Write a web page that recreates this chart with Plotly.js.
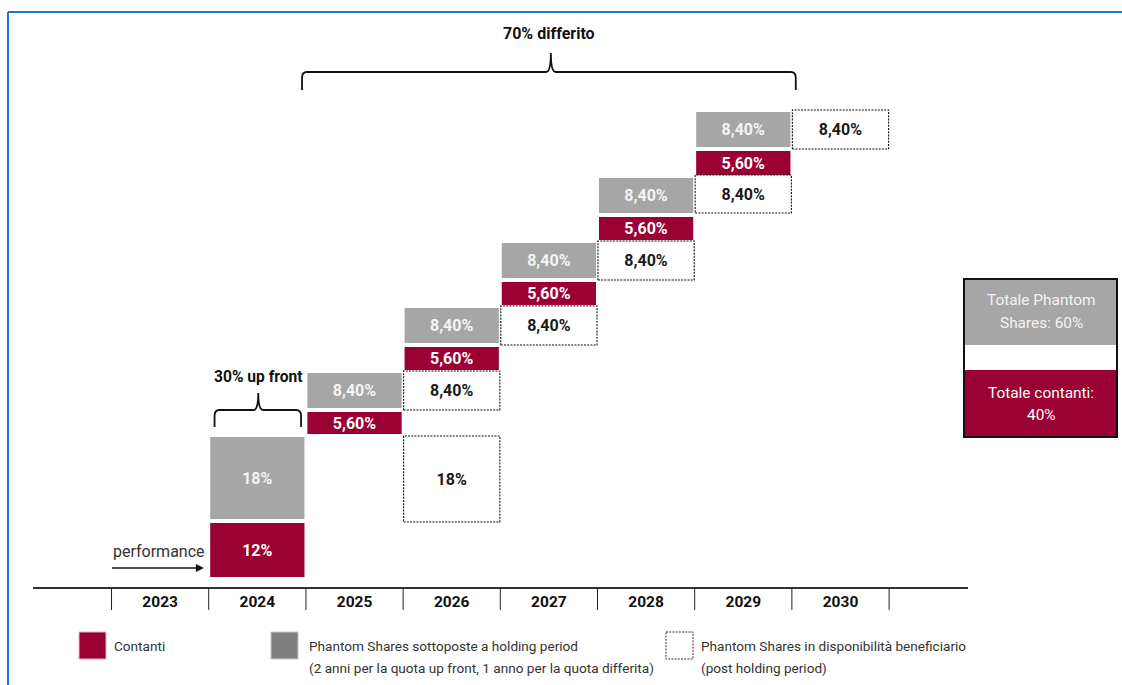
<!DOCTYPE html>
<html>
<head>
<meta charset="utf-8">
<script src="https://cdn.plot.ly/plotly-3.0.1.min.js"></script>
<style>html,body{margin:0;padding:0;background:#fff;}#chart{width:1122px;height:685px;}</style>
</head>
<body>
<div id="chart"></div>
<script>
// ---- data ----
const yearTicks = [2023, 2024, 2025, 2026, 2027, 2028, 2029, 2030];
const yearLabels = ['2023', '2024', '2025', '2026', '2027', '2028', '2029', '2030'];

// Contanti (cash)
const cashYears = [2024, 2025, 2026, 2027, 2028, 2029];
const cashLabels = ['12%', '5,60%', '5,60%', '5,60%', '5,60%', '5,60%'];
const cashBase = [10, 153, 217, 282, 347, 412];
const cashHeight = [54, 22, 23, 23, 23, 24];

// Phantom Shares sottoposte a holding period
const holdYears = [2024, 2025, 2026, 2027, 2028, 2029];
const holdLabels = ['18%', '8,40%', '8,40%', '8,40%', '8,40%', '8,40%'];
const holdBase = [68, 179, 244, 309, 374, 440];
const holdHeight = [82, 35, 35, 35, 35, 35];

// Phantom Shares in disponibilità beneficiario
const availYears = [2026, 2026, 2027, 2028, 2029, 2030];
const availLabels = ['18%', '8,40%', '8,40%', '8,40%', '8,40%', '8,40%'];
const availBase = [65, 177, 242, 307, 374, 438];
const availHeight = [86, 39, 39, 39, 38, 39];

// ---- styles ----
const RED = '#9A0032';
const GREY = '#A6A6A6';
const FONT = 'Roboto, "Liberation Sans", Arial, sans-serif';
const FILLED_W = 0.97;
const DASH_W = 0.99;
const BOX_FS = 16;

// plot area geometry (pixels) used only for decorations in paper coordinates
const L = 33, R = 968, T = 12, B = 587;
const P = px => (px - L) / (R - L);
const Q = py => (B - py) / (B - T);

const cashTrace = {
  type: 'bar', x: cashYears, y: cashHeight, base: cashBase, width: FILLED_W,
  text: cashLabels, textposition: 'inside', insidetextanchor: 'middle', textangle: 0,
  textfont: {family: FONT, size: BOX_FS, color: '#FFFFFF', weight: 700},
  marker: {color: RED, line: {width: 0}}, hoverinfo: 'skip', cliponaxis: false
};
const holdTrace = {
  type: 'bar', x: holdYears, y: holdHeight, base: holdBase, width: FILLED_W,
  text: holdLabels, textposition: 'inside', insidetextanchor: 'middle', textangle: 0,
  textfont: {family: FONT, size: BOX_FS, color: '#F4F4F4', weight: 700},
  marker: {color: GREY, line: {width: 0}}, hoverinfo: 'skip', cliponaxis: false
};
const availTrace = {
  type: 'bar', x: availYears, y: availHeight, base: availBase, width: DASH_W,
  text: availLabels, textposition: 'inside', insidetextanchor: 'middle', textangle: 0,
  textfont: {family: FONT, size: BOX_FS, color: '#1A1A1A', weight: 700},
  marker: {color: '#FFFFFF', line: {width: 0}}, hoverinfo: 'skip', cliponaxis: false
};
// dashed outlines for available boxes
const ox = [], oy = [];
availYears.forEach((yr, i) => {
  const x0 = yr - DASH_W / 2, x1 = yr + DASH_W / 2;
  const y0 = availBase[i], y1 = availBase[i] + availHeight[i];
  ox.push(x0, x1, x1, x0, x0, null);
  oy.push(y0, y0, y1, y1, y0, null);
});
const outlineTrace = {
  type: 'scatter', mode: 'lines', x: ox, y: oy,
  line: {color: '#111', width: 1.1, dash: '2px,1.2px'}, hoverinfo: 'skip', cliponaxis: false
};

function brace(x0, x1, xm, yEnd, yH, yTip, rx, ry) {
  return `M ${x0},${yEnd} L ${x0},${yH - ry} Q ${x0},${yH} ${x0 + rx},${yH} ` +
    `L ${xm - rx},${yH} Q ${xm},${yH} ${xm},${yTip} Q ${xm},${yH} ${xm + rx},${yH} ` +
    `L ${x1 - rx},${yH} Q ${x1},${yH} ${x1},${yH - ry} L ${x1},${yEnd}`;
}

const shapes = [];
// column dividers under the axis
for (let k = 0; k < 9; k++) {
  const xv = 2022.5 + k;
  shapes.push({type: 'line', xref: 'x', yref: 'paper', x0: xv, x1: xv, y0: 0, y1: Q(610),
    line: {color: '#222', width: 1}});
}
// braces
shapes.push({type: 'path', xref: 'x', yref: 'y', path: brace(2024.46, 2029.54, 2027.02, 497, 515, 534, 0.05, 6),
  line: {color: '#111', width: 1.8}});
shapes.push({type: 'path', xref: 'x', yref: 'y', path: brace(2023.56, 2024.45, 2024.01, 160, 177, 194, 0.05, 6),
  line: {color: '#111', width: 1.8}});
// blue frame
shapes.push({type: 'line', xref: 'paper', yref: 'paper', x0: P(8), x1: P(1122), y0: Q(12), y1: Q(12),
  line: {color: '#1E78D2', width: 2}});
shapes.push({type: 'line', xref: 'paper', yref: 'paper', x0: P(8), x1: P(8), y0: Q(12), y1: Q(685),
  line: {color: '#1E78D2', width: 2}});
// summary box at right
shapes.push({type: 'rect', xref: 'paper', yref: 'paper', x0: P(965), x1: P(1116), y0: Q(280), y1: Q(345),
  fillcolor: GREY, line: {width: 0}});
shapes.push({type: 'rect', xref: 'paper', yref: 'paper', x0: P(965), x1: P(1116), y0: Q(370), y1: Q(436),
  fillcolor: RED, line: {width: 0}});
shapes.push({type: 'rect', xref: 'paper', yref: 'paper', x0: P(964), x1: P(1117), y0: Q(279), y1: Q(437),
  fillcolor: 'rgba(0,0,0,0)', line: {color: '#111', width: 2}});
// legend swatches
shapes.push({type: 'rect', xref: 'paper', yref: 'paper', x0: P(79), x1: P(106), y0: Q(632), y1: Q(659),
  fillcolor: RED, line: {color: '#E3B5C3', width: 1}});
shapes.push({type: 'rect', xref: 'paper', yref: 'paper', x0: P(271), x1: P(298), y0: Q(632), y1: Q(659),
  fillcolor: '#7F7F7F', line: {color: '#C8C8C8', width: 1}});
shapes.push({type: 'rect', xref: 'paper', yref: 'paper', x0: P(666), x1: P(693), y0: Q(632), y1: Q(659),
  fillcolor: '#FFFFFF', line: {color: '#333', width: 1, dash: '2px,1.2px'}});

const LEG_FS = 13.6;
const txt = (text, x, y, opts) => Object.assign({
  text, x, y, xref: 'paper', yref: 'paper', showarrow: false,
  xanchor: 'left', yanchor: 'middle', font: {family: FONT, size: LEG_FS, color: '#333'}
}, opts || {});
const boxFont = c => ({family: FONT, size: 15.4, color: c});

const annotations = [
  {text: '70% differito', x: 2027, y: 554, xref: 'x', yref: 'y', showarrow: false,
   font: {family: FONT, size: 16, color: '#111', weight: 700}},
  {text: '30% up front', x: 2024.01, y: 210, xref: 'x', yref: 'y', showarrow: false,
   font: {family: FONT, size: 15.6, color: '#111', weight: 700}},
  {text: 'performance', x: 2022.99, y: 36, xref: 'x', yref: 'y', showarrow: false,
   font: {family: FONT, size: 16, color: '#333'}},
  {text: '', x: 2023.45, y: 19, xref: 'x', yref: 'y', ax: 2022.49, ay: 19, axref: 'x', ayref: 'y',
   showarrow: true, arrowhead: 2, arrowsize: 1, arrowwidth: 1.6, arrowcolor: '#111', standoff: 0, startstandoff: 0},
  txt('Totale Phantom', P(1041), Q(300), {xanchor: 'center', font: boxFont('#F4F4F4')}),
  txt('Shares: 60%', P(1041), Q(323), {xanchor: 'center', font: boxFont('#F4F4F4')}),
  txt('Totale contanti:', P(1041), Q(393), {xanchor: 'center', font: boxFont('#FFFFFF')}),
  txt('40%', P(1041), Q(415), {xanchor: 'center', font: boxFont('#FFFFFF')}),
  txt('Contanti', P(112), Q(646)),
  txt('Phantom Shares sottoposte a holding period', P(307), Q(646)),
  txt('(2 anni per la quota up front, 1 anno per la quota differita)', P(307), Q(668)),
  txt('Phantom Shares in disponibilità beneficiario', P(699), Q(646)),
  txt('(post holding period)', P(699), Q(668))
];

const layout = {
  width: 1122, height: 685,
  margin: {l: L, r: 1122 - R, t: T, b: 685 - B, pad: 0},
  paper_bgcolor: '#FFFFFF', plot_bgcolor: 'rgba(0,0,0,0)',
  showlegend: false, barmode: 'overlay',
  uniformtext: {minsize: BOX_FS, mode: 'show'},
  xaxis: {range: [2021.692, 2031.312], tickvals: yearTicks, ticktext: yearLabels,
    showgrid: false, zeroline: false, showline: true, linecolor: '#333', linewidth: 1.5,
    ticks: '', tickfont: {family: FONT, size: 15.5, color: '#111', weight: 700}, fixedrange: true},
  yaxis: {range: [0, 575], visible: false, fixedrange: true},
  shapes, annotations
};

Plotly.newPlot('chart', [availTrace, holdTrace, cashTrace, outlineTrace], layout, {displayModeBar: false, staticPlot: true});
</script>
</body>
</html>
